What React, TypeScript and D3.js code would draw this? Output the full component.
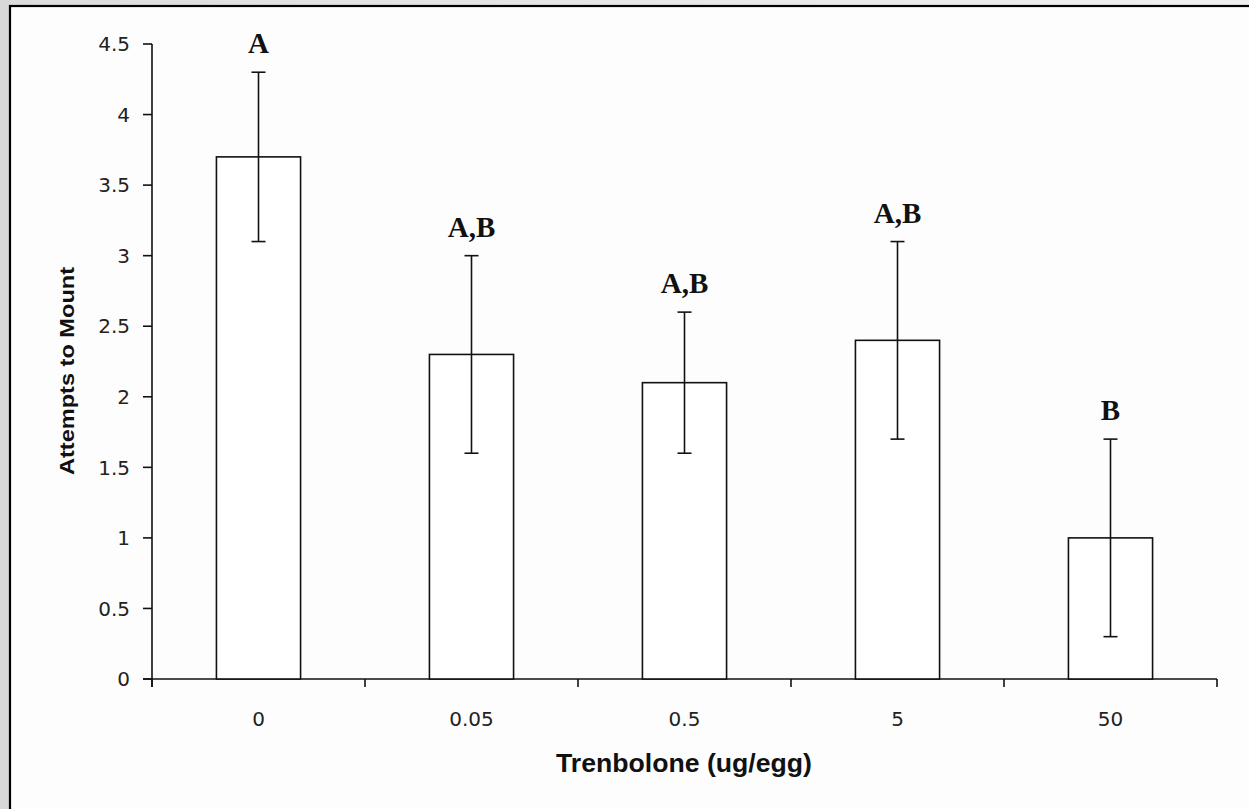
import React from "react";
import * as d3 from "d3";

const categories = ["0", "0.05", "0.5", "5", "50"];
const means = [3.7, 2.3, 2.1, 2.4, 1.0];
const errLow = [3.1, 1.6, 1.6, 1.7, 0.3];
const errHigh = [4.3, 3.0, 2.6, 3.1, 1.7];
const sigLabels = ["A", "A,B", "A,B", "A,B", "B"];
const yTicks = [0, 0.5, 1, 1.5, 2, 2.5, 3, 3.5, 4, 4.5];

const W = 1249;
const H = 809;
const plotLeft = 152;
const plotRight = 1217;
const plotTop = 44;
const plotBottom = 679;

export default function App() {
  const x = d3.scaleBand<string>().domain(categories).range([plotLeft, plotRight]).padding(0);
  const y = d3.scaleLinear().domain([0, 4.5]).range([plotBottom, plotTop]);
  const barW = x.bandwidth() * 0.395;
  const capW = 14;
  const bounds = d3.range(categories.length + 1).map((i) => plotLeft + i * x.step());
  const stroke = "#111";
  const tickFont = "'DejaVu Sans', Verdana, sans-serif";

  return (
    <div style={{ position: "fixed", left: 0, top: 0, width: W, height: H, overflow: "hidden" }}>
      <svg width={W} height={H} style={{ display: "block" }}>
        <defs>
          <linearGradient id="topg" x1="0" x2="1" y1="0" y2="0">
            <stop offset="0" stopColor="#dcdcdc" />
            <stop offset="0.35" stopColor="#e4e4e4" />
            <stop offset="1" stopColor="#f0f0f0" />
          </linearGradient>
        </defs>
        <rect x={0} y={0} width={W} height={H} fill="url(#topg)" />
        <rect x={0} y={0} width={10} height={H} fill="#d8d8d8" />
        <rect x={10} y={6} width={W + 20} height={H + 20} fill="#fdfdfd" stroke="#000" strokeWidth={2.2} />

        {/* y axis */}
        <line x1={plotLeft} x2={plotLeft} y1={plotTop} y2={plotBottom + 8} stroke={stroke} strokeWidth={1.6} />
        {yTicks.map((t) => (
          <g key={t}>
            <line x1={plotLeft - 9} x2={plotLeft} y1={y(t)} y2={y(t)} stroke={stroke} strokeWidth={1.6} />
            <text
              x={130}
              y={y(t)}
              dy="0.36em"
              textAnchor="end"
              fontFamily={tickFont}
              fontSize={20}
              fill="#222"
            >
              {d3.format("~g")(t)}
            </text>
          </g>
        ))}

        {/* x axis */}
        <line x1={plotLeft - 9} x2={plotRight} y1={plotBottom} y2={plotBottom} stroke={stroke} strokeWidth={1.6} />
        {bounds.map((b, i) => (
          <line key={i} x1={b} x2={b} y1={plotBottom} y2={plotBottom + 8} stroke={stroke} strokeWidth={1.6} />
        ))}
        {categories.map((c) => (
          <text
            key={c}
            x={(x(c) as number) + x.bandwidth() / 2}
            y={726}
            textAnchor="middle"
            fontFamily={tickFont}
            fontSize={20}
            fill="#222"
          >
            {c}
          </text>
        ))}

        {/* bars */}
        {categories.map((c, i) => {
          const cx = (x(c) as number) + x.bandwidth() / 2;
          return (
            <g key={c}>
              <rect
                x={cx - barW / 2}
                y={y(means[i])}
                width={barW}
                height={y(0) - y(means[i])}
                fill="#fff"
                stroke={stroke}
                strokeWidth={1.6}
              />
              <line x1={cx} x2={cx} y1={y(errLow[i])} y2={y(errHigh[i])} stroke={stroke} strokeWidth={1.6} />
              <line x1={cx - capW / 2} x2={cx + capW / 2} y1={y(errLow[i])} y2={y(errLow[i])} stroke={stroke} strokeWidth={1.6} />
              <line x1={cx - capW / 2} x2={cx + capW / 2} y1={y(errHigh[i])} y2={y(errHigh[i])} stroke={stroke} strokeWidth={1.6} />
              <text
                x={cx}
                y={y(errHigh[i]) - 19}
                textAnchor="middle"
                fontFamily="'Liberation Serif', 'Times New Roman', serif"
                fontWeight="bold"
                fontSize={29}
                fill="#111"
              >
                {sigLabels[i]}
              </text>
            </g>
          );
        })}

        {/* axis titles */}
        <text
          x={556}
          y={772}
          textLength={256}
          lengthAdjust="spacingAndGlyphs"
          fontFamily="'Liberation Sans', Arial, sans-serif"
          fontWeight="bold"
          fontSize={25}
          fill="#111"
        >
          Trenbolone (ug/egg)
        </text>
        <text
          transform={`translate(74, 475) rotate(-90)`}
          x={0}
          y={0}
          textLength={208}
          lengthAdjust="spacingAndGlyphs"
          fontFamily="'Liberation Sans', Arial, sans-serif"
          fontWeight="bold"
          fontSize={21}
          fill="#111"
        >
          Attempts to Mount
        </text>
      </svg>
    </div>
  );
}
